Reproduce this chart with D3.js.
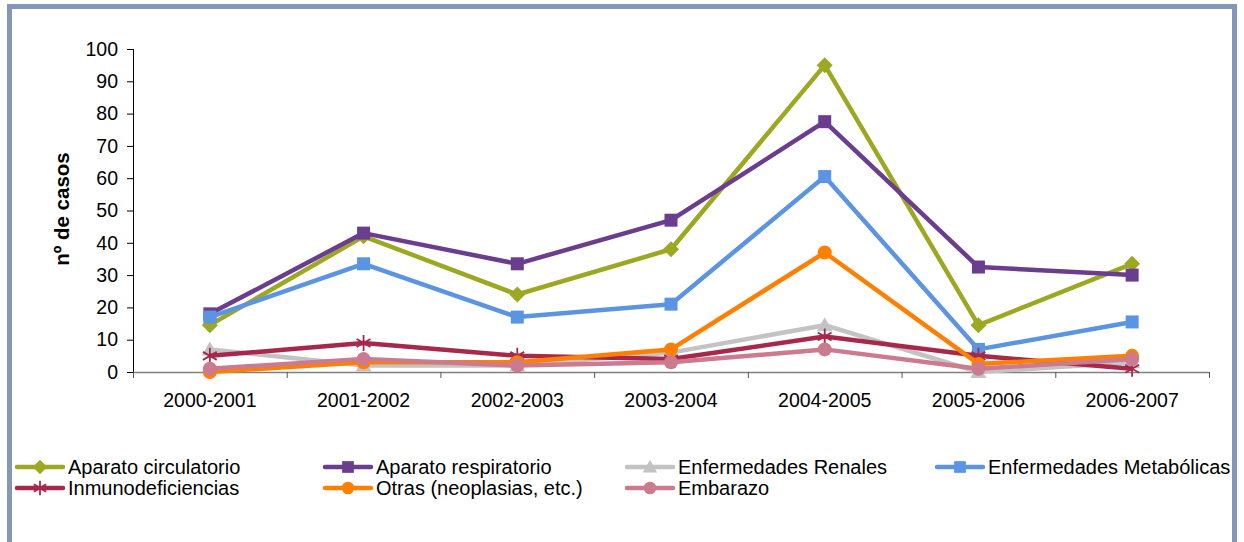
<!DOCTYPE html>
<html><head><meta charset="utf-8">
<script src="https://cdn.jsdelivr.net/npm/d3@7"></script>
<style>body{margin:0;background:#fff}svg{display:block;font-family:"Liberation Sans",Arial,sans-serif}</style>
</head><body><svg id="c" width="1244" height="542"></svg>
<script>
const categories = ["2000-2001","2001-2002","2002-2003","2003-2004","2004-2005","2005-2006","2006-2007"];
const yTicks = [0,10,20,30,40,50,60,70,80,90,100];
const circulatorio = [14.5, 42, 24, 38, 95, 14.5, 33.5];
const respiratorio = [18, 43, 33.5, 47, 77.5, 32.5, 30];
const renales = [7, 2, 2, 6, 14.5, 0, 3];
const metabolicas = [17, 33.5, 17, 21, 60.5, 7, 15.5];
const inmuno = [5, 9, 5, 4, 11, 5, 1];
const otras = [0, 3, 3, 7, 37, 2.5, 5];
const embarazo = [1, 4, 2, 3, 7, 1, 4];
const seriesNames = ["Aparato circulatorio","Aparato respiratorio","Enfermedades Renales","Enfermedades Metabólicas","Inmunodeficiencias","Otras (neoplasias, etc.)","Embarazo"];
const seriesValues = [circulatorio, respiratorio, renales, metabolicas, inmuno, otras, embarazo];
const seriesColors = ["#9DA822","#6B3D8E","#C3C3C3","#5B94E3","#A8284B","#FF8000","#CC7A8E"];
const seriesMarkers = ["diamond","square","triangle","square","star","circle","circle"];

const svg = d3.select("#c");
// frame
svg.append("rect").attr("x",9.5).attr("y",6.5).attr("width",1225).attr("height",545)
  .attr("fill","none").attr("stroke","#8597B8").attr("stroke-width",5);

const pL=133, pR=1209, pT=49, pB=372;
const x = d3.scaleBand().domain(categories).range([pL,pR]);
const y = d3.scaleLinear().domain([0,100]).range([pB,pT]);

// y axis
const ya = svg.append("g").attr("transform",`translate(${pL},0)`)
  .call(d3.axisLeft(y).tickValues(yTicks).tickSize(6).tickPadding(9));
ya.select(".domain").attr("stroke","#000").attr("d",`M0.5,${pT}V${pB}`);
ya.selectAll(".tick line").attr("stroke","#000");
ya.selectAll("text").attr("font-size",19.5).attr("fill","#000").attr("font-family","Liberation Sans, Arial");

// x axis
const xa = svg.append("g").attr("transform",`translate(0,${pB})`);
xa.append("line").attr("x1",pL).attr("x2",pR).attr("y1",0.5).attr("y2",0.5).attr("stroke","#7f7f7f").attr("stroke-width",1.5);
const bounds = categories.map(c=>x(c)).concat([pR]);
xa.selectAll("line.t").data(bounds).join("line").attr("class","t")
  .attr("x1",d=>d+0.5).attr("x2",d=>d+0.5).attr("y1",0).attr("y2",6).attr("stroke","#555");
xa.selectAll("text").data(categories).join("text")
  .attr("x",d=>x(d)+x.bandwidth()/2).attr("y",35).attr("text-anchor","middle")
  .attr("font-size",19.5).attr("fill","#000").text(d=>d);

// y title
svg.append("text").attr("transform",`translate(69,${209}) rotate(-90)`).attr("text-anchor","middle")
  .attr("font-size",20.5).attr("font-weight","bold").text("nº de casos");

function marker(g, type, color, cx, cy, s){
  s = s||1;
  if(type==="diamond"){
    const r=8*s; g.append("path").attr("d",`M${cx},${cy-r}L${cx+r},${cy}L${cx},${cy+r}L${cx-r},${cy}Z`).attr("fill",color);
  } else if(type==="square"){
    const r=6.5*s; g.append("rect").attr("x",cx-r).attr("y",cy-r).attr("width",2*r).attr("height",2*r).attr("fill",color);
  } else if(type==="triangle"){
    const r=8*s; g.append("path").attr("d",`M${cx},${cy-r}L${cx+r},${cy+r*0.75}L${cx-r},${cy+r*0.75}Z`).attr("fill",color);
  } else if(type==="circle"){
    g.append("circle").attr("cx",cx).attr("cy",cy).attr("r",7*s).attr("fill",color);
  } else if(type==="star"){
    const r=8*s; let d="";
    for(let i=0;i<3;i++){const a=Math.PI/2+i*Math.PI/3;const dx=r*Math.cos(a),dy=r*Math.sin(a);d+=`M${cx-dx},${cy-dy}L${cx+dx},${cy+dy}`;}
    g.append("path").attr("d",d).attr("stroke",color).attr("stroke-width",1.8).attr("fill","none");
  }
}

const line = d3.line().x((d,i)=>x(categories[i])+x.bandwidth()/2).y(d=>y(d));
seriesValues.forEach((vals,k)=>{
  const g = svg.append("g");
  g.append("path").datum(vals).attr("d",line).attr("fill","none").attr("stroke",seriesColors[k])
    .attr("stroke-width",4.5).attr("stroke-linejoin","round");
  vals.forEach((v,i)=>marker(g, seriesMarkers[k], seriesColors[k], x(categories[i])+x.bandwidth()/2, y(v)));
});

// legend
const legX=[17,325,627,937], legY=[467,488];
seriesNames.forEach((n,k)=>{
  const col=k%4, row=Math.floor(k/4);
  const lx=legX[col], ly=legY[row];
  const g=svg.append("g");
  g.append("line").attr("x1",lx).attr("x2",lx+46).attr("y1",ly).attr("y2",ly).attr("stroke",seriesColors[k]).attr("stroke-width",4.5).attr("stroke-linecap","round");
  marker(g, seriesMarkers[k], seriesColors[k], lx+23, ly, 0.9);
  g.append("text").attr("x",lx+51).attr("y",ly+7).attr("font-size",20).attr("fill","#000").text(n);
});
</script></body></html>
